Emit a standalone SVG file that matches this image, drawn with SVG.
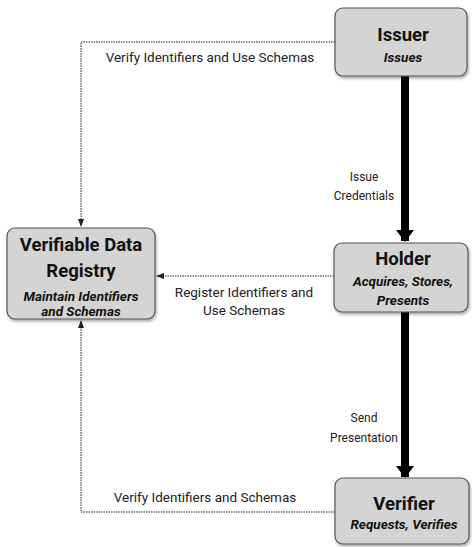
<svg xmlns="http://www.w3.org/2000/svg" width="472" height="547" viewBox="0 0 472 547">
<defs>
<style>
.box{fill:#d4d4d4;stroke:#555;stroke-width:1.2}
.t{font-family:Roboto,"Liberation Sans",sans-serif;font-weight:bold;font-size:18.5px;fill:#111;text-anchor:middle}
.s{font-family:Roboto,"Liberation Sans",sans-serif;font-weight:bold;font-style:italic;font-size:13.5px;fill:#111;text-anchor:middle}
.l{font-family:Roboto,"Liberation Sans",sans-serif;font-size:13.5px;fill:#222;text-anchor:middle}
.v{font-size:12px}
.thin{fill:none;stroke:#222;stroke-width:1;stroke-dasharray:1.5 1}
.thick{fill:none;stroke:#000;stroke-width:8}
</style>
<marker id="ah" markerWidth="8" markerHeight="8" refX="7" refY="4" orient="auto" markerUnits="userSpaceOnUse"><path d="M0,1 L8,4 L0,7 Z" fill="#222"/></marker>
<marker id="big" markerWidth="12" markerHeight="18" refX="11" refY="9" orient="auto" markerUnits="userSpaceOnUse"><path d="M0,0 L12,9 L0,18 Z" fill="#000"/></marker>
<filter id="sh" x="-10%" y="-10%" width="130%" height="130%"><feDropShadow dx="1" dy="2" stdDeviation="1.5" flood-color="#000" flood-opacity="0.35"/></filter>
</defs>
<g id="connectors">
<path class="thin" d="M335,42 H81 V226" marker-end="url(#ah)"/>
<path class="thin" d="M334,276 H157" marker-end="url(#ah)"/>
<path class="thin" d="M335,512 H81 V321" marker-end="url(#ah)"/>
<path class="thick" d="M405,76 V241" marker-end="url(#big)"/>
<path class="thick" d="M405,312 V477" marker-end="url(#big)"/>
<text class="l" x="210" y="62">Verify Identifiers and Use Schemas</text>
<text class="l" x="244" y="297">Register Identifiers and</text>
<text class="l" x="244" y="315">Use Schemas</text>
<text class="l" x="205" y="502">Verify Identifiers and Schemas</text>
<text class="l v" x="364" y="181">Issue</text>
<text class="l v" x="364" y="200">Credentials</text>
<text class="l v" x="364" y="422">Send</text>
<text class="l v" x="364" y="442">Presentation</text>
</g>
<g id="issuer">
<rect class="box" x="335" y="8" width="132" height="68" rx="8" filter="url(#sh)"/>
<text class="t" x="403" y="41">Issuer</text>
<text class="s" x="403" y="62">Issues</text>
</g>
<g id="holder">
<rect class="box" x="334" y="243" width="134" height="69" rx="8" filter="url(#sh)"/>
<text class="t" x="403" y="265">Holder</text>
<text class="s" x="403" y="286">Acquires, Stores,</text>
<text class="s" x="403" y="305">Presents</text>
</g>
<g id="verifier">
<rect class="box" x="335" y="478" width="134" height="66" rx="8" filter="url(#sh)"/>
<text class="t" x="404" y="510">Verifier</text>
<text class="s" x="404" y="529">Requests, Verifies</text>
</g>
<g id="registry">
<rect class="box" x="7" y="228" width="148" height="91" rx="8" filter="url(#sh)"/>
<text class="t" x="81" y="251">Verifiable Data</text>
<text class="t" x="81" y="277">Registry</text>
<text class="s" x="81" y="301">Maintain Identifiers</text>
<text class="s" x="81" y="316">and Schemas</text>
</g>
</svg>
